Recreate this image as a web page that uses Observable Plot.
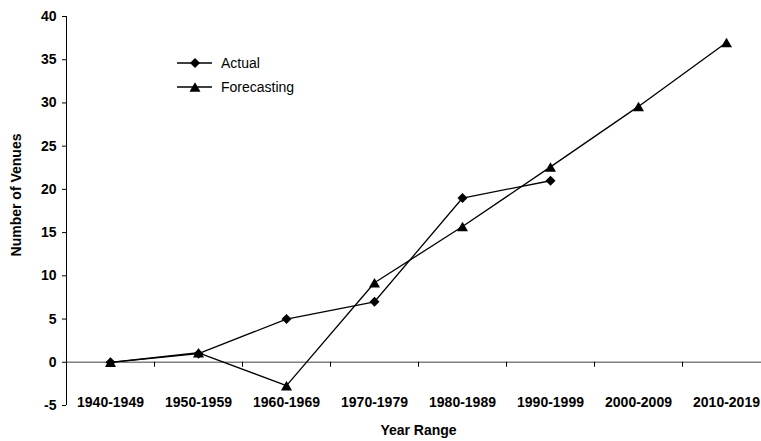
<!DOCTYPE html>
<html>
<head>
<meta charset="utf-8">
<script src="https://cdn.jsdelivr.net/npm/d3@7"></script>
<script src="https://cdn.jsdelivr.net/npm/@observablehq/plot@0.6"></script>
<style>
  body { margin: 0; background: #fff; }
  #wrap { position: relative; width: 761px; height: 441px; overflow: hidden; font-family: "Liberation Sans", Arial, sans-serif; }
  #legend { position: absolute; left: 170px; top: 50px; }
</style>
</head>
<body>
<div id="wrap"></div>
<script>
const categories = ["1940-1949","1950-1959","1960-1969","1970-1979","1980-1989","1990-1999","2000-2009","2010-2019"];
const actual = [0, 1, 5, 7, 19, 21];
const forecasting = [0, 1.1, -2.7, 9.2, 15.7, 22.6, 29.6, 37];
const yTicks = [-5, 0, 5, 10, 15, 20, 25, 30, 35, 40];
const seriesNames = ["Actual", "Forecasting"];

const actualData = actual.map((v, i) => ({i, v}));
const forecastData = forecasting.map((v, i) => ({i, v}));
const boundaries = d3.range(categories.length + 1).map(i => i - 0.5);
const xDomain = [-0.5, categories.length - 0.5];
const font = "'Liberation Sans', Arial, sans-serif";

const chart = Plot.plot({
  width: 761,
  height: 441,
  marginLeft: 66,
  marginRight: -9,
  marginTop: 16,
  marginBottom: 36,
  style: {fontFamily: font, background: "white", color: "black"},
  x: {type: "linear", domain: xDomain, axis: null},
  y: {domain: [yTicks[0], yTicks[yTicks.length - 1]], axis: null},
  marks: [
    Plot.ruleY([0], {stroke: "#808080", strokeWidth: 1.5}),
    Plot.ruleX(boundaries.slice(1), {x: d => d, y1: 0, y2: 0, insetBottom: -5, stroke: "black", strokeWidth: 1}),
    Plot.ruleX([xDomain[0]], {y1: yTicks[0], y2: yTicks[yTicks.length - 1], stroke: "black", strokeWidth: 1}),
    Plot.axisY({ticks: yTicks, tickSize: 4, tickPadding: 6, fontSize: 14, fontWeight: "bold", label: null, tickFormat: d => d}),
    Plot.text(categories, {x: (d, i) => i, y: yTicks[0], dy: -3, text: d => d, fontSize: 14, fontWeight: "bold", fill: "black"}),
    Plot.text(["Year Range"], {frameAnchor: "bottom", dy: 29, fontSize: 14, fontWeight: "bold", fill: "black"}),
    Plot.text(["Number of Venues"], {frameAnchor: "left", textAnchor: "middle", rotate: -90, dx: -50, dy: -16, fontSize: 14, fontWeight: "bold", fill: "black"}),
    Plot.line(actualData, {x: "i", y: "v", stroke: "black", strokeWidth: 1.3}),
    Plot.line(forecastData, {x: "i", y: "v", stroke: "black", strokeWidth: 1.3}),
    Plot.dot(actualData, {x: "i", y: "v", symbol: "diamond2", r: 4.5, fill: "black", stroke: "none"}),
    Plot.dot(forecastData, {x: "i", y: "v", symbol: "triangle", r: 4.1, fill: "black", stroke: "none", dy: 1.6})
  ]
});

const wrap = document.getElementById("wrap");
wrap.appendChild(chart);

// Legend
const lg = d3.select(wrap).append("svg").attr("id", "legend").attr("width", 160).attr("height", 50);
const symbols = [d3.symbol(d3.symbolDiamond2, 63.7), d3.symbol(d3.symbolTriangle, Math.PI * 4.1 * 4.1)];
seriesNames.forEach((name, k) => {
  const g = lg.append("g").attr("transform", `translate(0,${13 + k * 24})`);
  g.append("line").attr("x1", 7).attr("x2", 42).attr("stroke", "black").attr("stroke-width", 1.3);
  g.append("path").attr("d", symbols[k]()).attr("transform", `translate(25,${k === 1 ? 1.6 : 0})`).attr("fill", "black");
  g.append("text").attr("x", 51).attr("dy", "0.35em").attr("font-size", 14).attr("font-family", font).text(name);
});
</script>
</body>
</html>
